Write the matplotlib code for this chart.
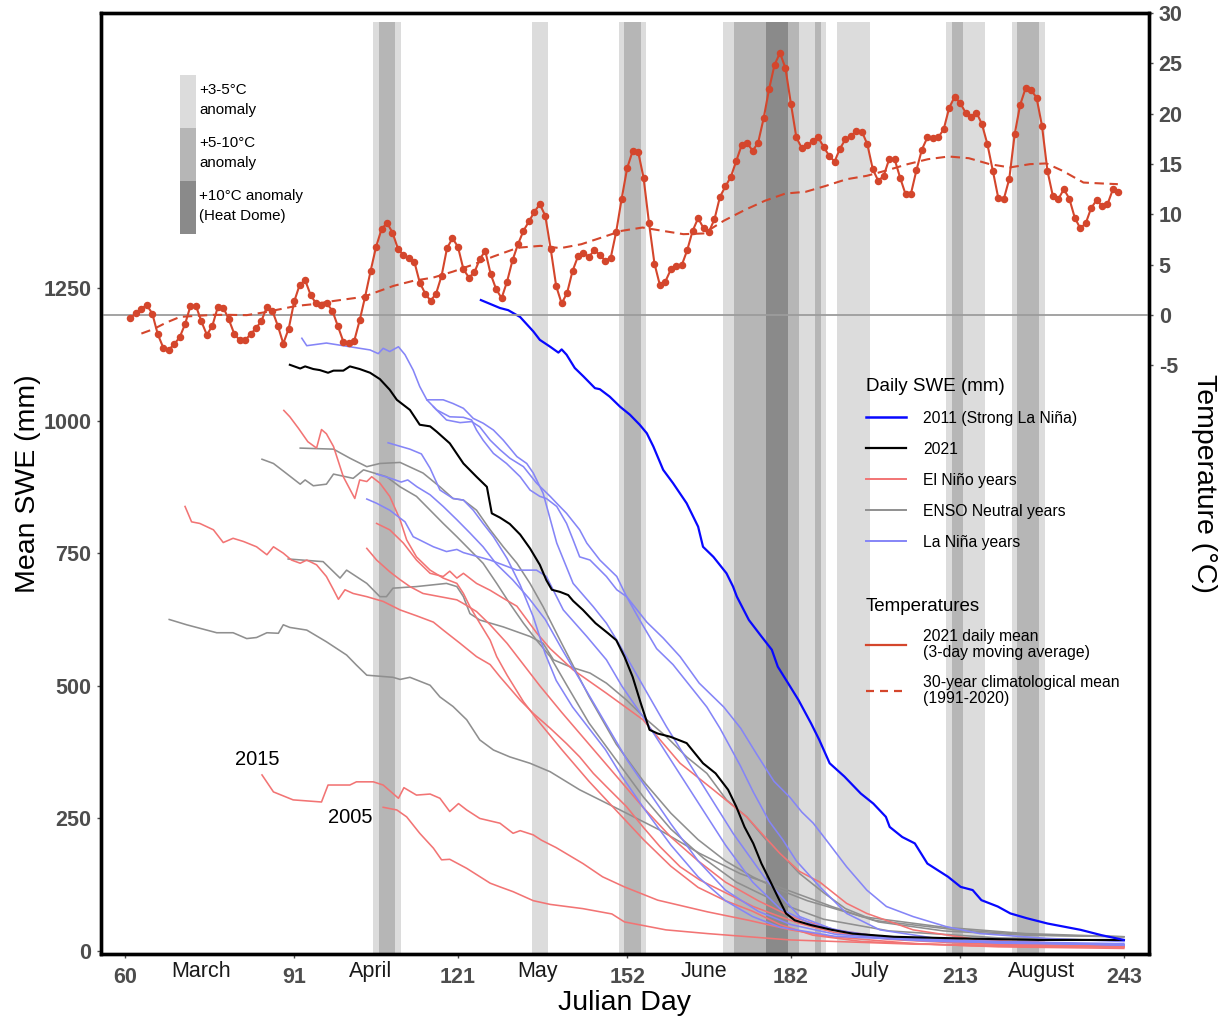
import matplotlib
matplotlib.use('Agg')
import matplotlib.pyplot as plt
from matplotlib.lines import Line2D
from matplotlib.patches import Patch

plt.rcParams['font.family'] = ['Liberation Sans', 'DejaVu Sans']

# ---------------- data ----------------
temp_days = list(range(61, 243))
temp_2021 = [
    -0.33, 0.17, 0.63, 0.96, 0.13, -1.92, -3.25, -3.48, -2.92, -2.25,
    -0.93, 0.89, 0.89, -0.66, -1.99, -1.09, 0.76, 0.73, -0.43, -1.86,
    -2.52, -2.52, -1.92, -1.33, -0.60, 0.80, 0.40, -1.09, -2.85, -1.36,
    1.33, 2.98, 3.45, 1.99, 1.13, 0.99, 1.13, 0.40, -1.13, -2.65,
    -2.75, -2.58, -0.53, 1.82, 4.37, 6.76, 8.51, 9.15, 8.18, 6.59,
    5.93, 5.63, 5.30, 3.21, 2.12, 1.39, 2.12, 3.88, 6.63, 7.62,
    6.76, 4.54, 3.71, 4.21, 5.53, 6.36, 4.04, 2.55, 1.66, 3.31,
    5.43, 7.02, 8.35, 9.28, 10.24, 11.0, 9.84, 6.53, 2.85, 1.13,
    2.19, 4.37, 5.83, 6.16, 5.77, 6.43, 5.96, 5.37, 5.70, 8.28,
    11.56, 14.58, 16.27, 16.23, 13.65, 9.15, 5.10, 2.95, 3.31, 4.51,
    4.90, 4.93, 6.43, 8.35, 9.61, 8.61, 8.28, 9.51, 11.73, 12.76,
    13.72, 15.31, 16.90, 17.06, 16.30, 17.13, 19.52, 22.43, 24.85, 26.04,
    24.52, 21.0, 17.63, 16.57, 16.86, 17.26, 17.63, 16.70, 15.81, 15.24,
    16.53, 17.46, 17.79, 18.29, 18.22, 16.96, 14.48, 13.32, 13.82, 15.47,
    15.47, 13.65, 12.0, 12.06, 14.38, 16.43, 17.63, 17.53, 17.63, 18.46,
    20.58, 21.67, 21.07, 20.11, 19.62, 20.11, 18.95, 16.96, 14.31, 11.6,
    11.5, 13.49, 17.96, 20.87, 22.53, 22.33, 21.6, 18.79, 14.31, 11.8,
    11.5, 12.49, 11.56, 9.67, 8.61, 9.08, 10.6, 11.4, 10.83, 10.99,
    12.49, 12.26]

clim_days = [63, 65.2, 67.6, 70.1, 73.1, 76.2, 79.2, 82.3, 85.3, 88.4, 91.4, 94.5,
             97.6, 100.6, 103.7, 106.7, 109.2, 112.8, 116.5, 120.1, 123.8, 127.5,
             131.1, 132.4, 136.1, 139.8, 143.6, 147.3, 151.0, 154.8, 158.5, 162.3,
             166.0, 169.7, 173.5, 177.2, 181.0, 184.7, 188.4, 192.2, 195.9, 199.7,
             203.4, 207.1, 210.9, 214.6, 218.4, 222.1, 225.8, 228.8, 231.8, 235.6,
             239.3, 241.9]
clim_mean = [-1.86, -1.42, -0.76, -0.2, -0.1, 0.0, 0.0, -0.03, 0.23, 0.56, 0.89, 1.06,
             1.33, 1.56, 1.79, 2.39, 2.88, 3.38, 3.71, 4.3, 5.0, 5.8,
             6.5, 6.69, 6.86, 6.63, 7.02, 7.68, 8.35, 8.68, 8.35, 8.02,
             8.09, 9.35, 10.41, 11.33, 12.06, 12.23, 12.82, 13.48, 13.82, 14.38,
             14.98, 15.47, 15.74, 15.57, 14.98, 14.65, 14.98, 15.05, 14.31, 13.15,
             13.05, 12.99]

# anomaly bands (Julian day ranges)
band_light = [(105.5, 110.5), (134.5, 137.5), (150.5, 155.5), (169.5, 188.5),
              (190.5, 196.5), (210.5, 217.5), (222.5, 228.5)]
band_medium = [(106.5, 109.5), (151.5, 154.5), (171.5, 183.5), (186.5, 187.5),
               (211.5, 213.5), (223.5, 227.5)]
band_dark = [(177.5, 181.5)]

# 2011 strong La Nina
y2011_days = [125.2, 128.7, 130.2, 132.4, 134.8, 136.0, 137.9, 139.4, 140.0, 140.9, 142.4,
              144.0, 146.1, 147.0, 148.8, 150.7, 152.5, 154.3, 155.6, 156.8, 158.6, 160.4,
              162.9, 165.0, 165.9, 167.8, 170.2, 171.4, 172.1, 174.3, 176.6, 178.5, 179.6,
              181.9, 183.4, 185.7, 187.2, 189.1, 191.8, 194.8, 197.1, 199.4, 200.1, 202.4,
              204.7, 207.0, 210.8, 213.1, 215.3, 216.9, 219.9, 222.2, 225.2, 229.0, 235.1,
              238.9, 243.0]
y2011_swe = [1227, 1212, 1208, 1195, 1168, 1152, 1139, 1128, 1134, 1124, 1099,
             1083, 1061, 1059, 1045, 1026, 1011, 992, 976, 951, 907, 882,
             844, 800, 762, 743, 712, 687, 668, 624, 593, 568, 536,
             498, 473, 429, 398, 354, 329, 297, 278, 253, 234, 215,
             203, 165, 140, 121, 115, 96, 84, 71, 62, 52, 40,
             30, 21]

# 2021
y2021_days = [90.2, 92.1, 93.0, 94.5, 95.7, 97.2, 98.2, 100.0, 101.2, 103.0, 104.9, 106.7,
              108.5, 109.8, 112.2, 114.0, 115.9, 117.1, 119.5, 122.0, 124.4, 126.3, 127.2,
              128.7, 130.5, 132.4, 134.2, 136.0, 137.2, 138.2, 139.7, 141.2, 142.1, 143.9,
              146.2, 148.5, 150.0, 151.5, 153.0, 154.5, 156.1, 157.6, 159.9, 162.9, 164.4,
              165.9, 168.2, 170.5, 172.0, 173.5, 175.1, 176.6, 178.1, 179.6, 181.1, 182.7,
              185.7, 189.5, 193.3, 200.9, 212.3, 227.5, 243.0]
y2021_swe = [1105, 1098, 1102, 1097, 1095, 1090, 1094, 1094, 1102, 1097, 1090, 1078,
             1058, 1039, 1020, 992, 989, 979, 957, 919, 894, 875, 825,
             817, 805, 785, 759, 728, 699, 681, 677, 671, 660, 643,
             618, 599, 586, 555, 517, 467, 417, 410, 404, 392, 373,
             354, 335, 304, 272, 234, 203, 165, 134, 102, 71, 58,
             49, 40, 33, 27, 24, 21, 21]

# La Nina years
nina1_days = [92.4, 93.3, 96.9, 101.2, 104.9, 106.4, 107.3, 108.5, 110.1, 111.3, 112.8, 114.0,
              115.3, 117.1, 119.5, 122.0, 123.5, 124.4, 125.6, 127.5, 129.9, 132.4, 134.2,
              136.0, 137.2, 139.1, 140.9, 142.1, 143.3, 145.2, 148.2, 150.1, 151.9, 155.6,
              158.6, 161.7, 165.2, 169.7, 172.8, 175.8, 178.9, 181.8, 184.0, 186.1, 188.5,
              192.2, 195.9, 199.5, 204.4, 210.5, 216.6, 228.8, 243.0]
nina1_swe = [1155, 1141, 1146, 1139, 1133, 1126, 1136, 1130, 1139, 1124, 1095, 1064,
             1039, 1020, 1007, 1006, 1001, 982, 963, 938, 919, 894, 869,
             857, 853, 838, 806, 775, 743, 737, 706, 681, 668, 620,
             590, 555, 505, 460, 420, 370, 320, 290, 262, 241, 209,
             159, 115, 84, 65, 46, 33, 24, 18]
nina2_days = [115.3, 118.3, 120.1, 122.0, 123.8, 125.6, 127.5, 129.3, 131.8, 133.6, 134.8,
              136.6, 139.1, 142.1, 145.8, 148.2, 150.1, 154.3, 159.2, 165.3, 171.4, 177.5,
              183.6, 190.0, 200.0, 220.0, 243.0]
nina2_swe = [1039, 1039, 1032, 1023, 1004, 995, 982, 963, 932, 919, 901,
             863, 769, 693, 649, 618, 586, 511, 423, 322, 222, 134,
             65, 40, 25, 15, 12]
nina3_days = [116.5, 118.9, 121.4, 123.5, 125.0, 126.9, 128.7, 130.5, 133.0, 135.4, 137.9,
              139.1, 140.9, 143.3, 144.6, 147.0, 150.1, 151.9, 154.3, 157.4, 160.4, 163.5,
              166.6, 169.0, 172.7, 175.1, 178.0, 180.5, 183.0, 187.3, 192.2, 198.3, 210.5,
              243.0]
nina3_swe = [1026, 1001, 996, 998, 988, 963, 945, 929, 913, 882, 857,
             844, 825, 794, 769, 737, 706, 668, 624, 570, 540, 500,
             460, 420, 350, 300, 245, 210, 170, 121, 71, 40, 21,
             11]
nina4_days = [108.2, 112.2, 114.3, 115.9, 117.7, 120.1, 122.0, 123.8, 125.6, 127.5, 130.0,
              132.4, 134.8, 137.0, 139.0, 142.0, 145.0, 148.0, 151.0, 155.0, 160.0, 165.0,
              170.0, 175.0, 180.0, 190.0, 210.0, 243.0]
nina4_swe = [958, 946, 937, 910, 869, 853, 850, 831, 806, 781, 740,
             690, 630, 560, 510, 460, 420, 380, 330, 270, 200, 140,
             95, 65, 45, 28, 18, 12]
nina5_days = [104.3, 106.1, 108.5, 111.3, 112.8, 116.5, 118.9, 120.8, 122.0, 126.9, 131.8,
              135.4, 137.2, 140.3, 144.6, 148.2, 151.0, 155.0, 160.0, 165.0, 170.0, 175.0,
              180.0, 186.0, 195.0, 215.0, 243.0]
nina5_swe = [852, 844, 831, 809, 781, 762, 753, 757, 751, 737, 718,
             718, 706, 643, 593, 549, 500, 440, 360, 280, 200, 130,
             80, 50, 30, 18, 12]
nina6_days = [106.1, 108.4, 110.6, 111.8, 113.5, 115.9, 118.3, 120.8, 123.2, 125.6, 128.0,
              131.0, 134.0, 137.0, 140.0, 144.0, 148.0, 152.0, 156.0, 160.0, 165.0, 170.0,
              176.0, 182.0, 190.0, 205.0, 243.0]
nina6_swe = [899, 892, 884, 888, 875, 860, 838, 813, 788, 762, 730,
             700, 665, 625, 570, 500, 430, 360, 300, 240, 170, 115,
             75, 50, 32, 20, 14]

# El Nino years
nino1_days = [89.1, 90.2, 91.8, 93.5, 95.1, 96.0, 96.9, 98.2, 100.0, 102.1, 103.0, 104.3,
              105.2, 106.7, 108.5, 110.4, 111.6, 113.4, 115.9, 118.3, 120.8, 122.0, 123.2,
              125.0, 126.9, 128.1, 130.0, 133.0, 136.0, 140.0, 145.0, 150.0, 155.0, 160.0,
              165.0, 170.0, 175.0, 180.0, 186.0, 195.0, 215.0, 243.0]
nino1_swe = [1019, 1007, 985, 960, 948, 983, 975, 951, 894, 853, 888, 885,
             894, 882, 857, 813, 775, 743, 718, 703, 693, 674, 649,
             618, 586, 555, 520, 470, 430, 380, 320, 265, 210, 160,
             120, 95, 75, 50, 30, 18, 10, 7]
nino2_days = [71.0, 72.2, 73.7, 76.2, 78.0, 79.8, 81.7, 84.1, 86.0, 87.2, 89.0, 90.5, 92.1,
              93.3, 95.1, 96.9, 98.2, 99.1, 100.3, 101.8, 104.3, 107.3, 110.4, 113.4, 116.5,
              118.3, 121.4, 124.4, 126.9, 128.7, 132.4, 134.8, 137.9, 140.9, 143.3, 145.8,
              148.2, 151.9, 154.9, 158.0, 161.7, 165.3, 170.2, 175.1, 180.0, 183.6, 190.0,
              200.0, 215.0, 243.0]
nino2_swe = [838, 809, 806, 794, 770, 778, 772, 762, 747, 762, 750, 737, 731,
             737, 728, 706, 681, 663, 681, 674, 668, 659, 643, 632, 620,
             605, 580, 555, 540, 517, 473, 448, 420, 391, 366, 335,
             310, 272, 234, 197, 159, 134, 109, 84, 65, 52, 35,
             22, 14, 9]
nino3_days = [104.3, 106.1, 108.5, 110.4, 112.2, 114.6, 117.7, 120.8, 122.0, 124.4, 126.9,
              130.0, 133.0, 136.0, 140.0, 145.0, 150.0, 155.0, 160.0, 165.0, 170.0, 176.0,
              182.0, 190.0, 200.0, 220.0, 243.0]
nino3_swe = [759, 737, 715, 700, 687, 674, 668, 662, 655, 640, 615,
             580, 540, 500, 450, 390, 330, 270, 215, 170, 130, 95,
             65, 40, 25, 13, 8]
nino4_days = [106.1, 108.5, 111.0, 113.4, 115.9, 118.3, 119.5, 120.8, 122.0, 124.4, 126.9,
              129.3, 131.8, 135.4, 137.9, 142.1, 148.2, 154.9, 161.7, 167.8, 173.9, 180.0,
              183.6, 187.3, 192.2, 195.9, 204.4, 216.6, 243.0]
nino4_swe = [806, 794, 769, 737, 712, 706, 716, 703, 712, 693, 680,
             665, 650, 600, 570, 530, 486, 436, 354, 304, 253, 184,
             150, 130, 90, 71, 40, 21, 10]
nino2015_days = [85.1, 87.2, 90.8, 96.0, 97.2, 101.2, 102.4, 105.5, 107.3, 110.1, 111.1, 113.4,
                 115.9, 117.7, 119.5, 121.1, 122.6, 125.0, 128.7, 131.1, 132.4, 134.8, 136.3,
                 139.0, 143.9, 147.5, 151.5, 157.6, 166.7, 174.3, 181.9, 189.5, 204.7, 220.0,
                 243.0]
nino2015_swe = [332, 300, 285, 281, 313, 313, 319, 319, 313, 288, 308, 294,
                296, 288, 263, 278, 266, 250, 241, 222, 227, 219, 209,
                195, 165, 140, 121, 96, 74, 58, 40, 27, 14, 8,
                5]
nino2005_days = [107.3, 109.8, 111.6, 114.0, 116.5, 118.0, 119.5, 122.6, 126.9, 128.7, 131.1,
                 134.8, 137.9, 143.9, 149.2, 151.5, 159.1, 166.7, 181.9, 204.7, 243.0]
nino2005_swe = [271, 266, 253, 222, 194, 172, 173, 156, 128, 121, 112,
                95, 88, 80, 70, 55, 40, 33, 21, 13, 8]

# ENSO neutral years
neut1_days = [68.1, 71.3, 76.8, 79.8, 82.3, 84.1, 86.0, 88.1, 89.0, 90.2, 93.3, 96.9, 100.6,
              102.4, 104.3, 109.1, 110.4, 112.2, 115.9, 117.7, 120.1, 122.6, 125.0, 127.5,
              130.5, 134.2, 137.9, 143.3, 150.7, 158.0, 165.3, 172.7, 180.0, 189.5, 197.1,
              212.3, 227.5, 243.0]
neut1_swe = [625, 615, 600, 600, 589, 591, 600, 599, 615, 610, 605, 583, 558,
             539, 520, 516, 512, 516, 501, 479, 461, 436, 398, 379,
             366, 354, 338, 304, 266, 228, 184, 146, 120, 84, 58,
             40, 30, 27]
neut2_days = [85.1, 87.2, 89.6, 92.1, 93.0, 94.5, 96.9, 98.2, 101.8, 103.7, 107.9, 110.4,
              113.4, 115.9, 118.3, 120.8, 123.2, 125.6, 128.1, 130.5, 133.0, 135.4, 137.9,
              141.0, 145.0, 150.0, 155.0, 160.0, 166.0, 172.0, 180.0, 188.0, 200.0, 220.0,
              243.0]
neut2_swe = [927, 919, 900, 880, 888, 877, 880, 899, 891, 907, 894, 875,
             857, 831, 806, 781, 756, 731, 693, 655, 618, 586, 555,
             500, 430, 360, 290, 230, 175, 130, 90, 60, 38, 25,
             20]
neut3_days = [92.1, 98.2, 101.2, 104.3, 106.7, 110.4, 114.6, 117.7, 120.1, 122.0, 124.4,
              126.9, 129.3, 131.8, 134.2, 136.6, 140.0, 145.0, 150.0, 155.0, 160.0, 165.0,
              170.0, 175.0, 180.0, 185.0, 195.0, 210.0, 225.0, 243.0]
neut3_swe = [948, 946, 929, 913, 919, 921, 901, 875, 853, 850, 831,
             794, 762, 731, 693, 649, 580, 480, 390, 320, 260, 210,
             170, 140, 115, 95, 65, 45, 33, 27]
neut4_days = [89.9, 96.3, 99.4, 100.6, 104.3, 106.7, 107.9, 109.1, 113.4, 118.9, 120.8,
              122.0, 123.2, 125.0, 129.3, 134.2, 136.6, 138.5, 141.5, 145.2, 148.2, 151.9,
              155.6, 159.2, 162.9, 166.6, 170.2, 173.9, 177.5, 181.2, 183.6, 188.0, 192.0,
              198.0, 210.0, 225.0, 243.0]
neut4_swe = [739, 734, 703, 718, 693, 668, 668, 684, 687, 693, 687,
             668, 636, 624, 611, 593, 580, 549, 536, 524, 505, 473,
             436, 404, 366, 335, 285, 253, 209, 172, 146, 110, 80,
             55, 38, 30, 27]

nina_lines = [(nina1_days, nina1_swe), (nina2_days, nina2_swe), (nina3_days, nina3_swe),
              (nina4_days, nina4_swe), (nina5_days, nina5_swe), (nina6_days, nina6_swe)]
nino_lines = [(nino1_days, nino1_swe), (nino2_days, nino2_swe), (nino3_days, nino3_swe),
              (nino4_days, nino4_swe), (nino2015_days, nino2015_swe),
              (nino2005_days, nino2005_swe)]
neutral_lines = [(neut1_days, neut1_swe), (neut2_days, neut2_swe), (neut3_days, neut3_swe),
                 (neut4_days, neut4_swe)]

x_ticks = [60, 91, 121, 152, 182, 213, 243]
month_pos = [74, 105, 135.5, 166, 196.5, 228]
month_names = ['March', 'April', 'May', 'June', 'July', 'August']
swe_ticks = [0, 250, 500, 750, 1000, 1250]
temp_ticks = [-5, 0, 5, 10, 15, 20, 25, 30]

# ---------------- style ----------------
c_light, c_medium, c_dark = '#dcdcdc', '#b6b6b6', '#8a8a8a'
c_nino, c_nina, c_neutral = '#f27474', '#8585f7', '#8f8f8f'
c_2011, c_2021 = '#0808ff', '#000000'
c_temp = '#d4462c'
tick_color = '#4d4d4d'

fig = plt.figure(figsize=(12.27, 10.17), dpi=100)
ax = fig.add_axes([0.0823, 0.0622, 0.8541, 0.925])
ax2 = ax.twinx()

ax.set_xlim(55.6, 247.6)
ax.set_ylim(-5, 1768)
ax2.set_ylim(-63.5, 29.9)

band_top = 0.99
for x0, x1 in band_light:
    ax.axvspan(x0, x1, ymin=0, ymax=band_top, color=c_light, lw=0, zorder=0.5)
for x0, x1 in band_medium:
    ax.axvspan(x0, x1, ymin=0, ymax=band_top, color=c_medium, lw=0, zorder=0.6)
for x0, x1 in band_dark:
    ax.axvspan(x0, x1, ymin=0, ymax=band_top, color=c_dark, lw=0, zorder=0.7)

thin = 1.15
for d, v in neutral_lines:
    ax.plot(d, v, color=c_neutral, lw=thin, zorder=2)
for d, v in nino_lines:
    ax.plot(d, v, color=c_nino, lw=thin, zorder=2.1)
for d, v in nina_lines:
    ax.plot(d, v, color=c_nina, lw=thin, zorder=2.2)
ax.plot(y2021_days, y2021_swe, color=c_2021, lw=1.5, zorder=3)
ax.plot(y2011_days, y2011_swe, color=c_2011, lw=1.6, zorder=3)

ax.text(84.2, 362, '2015', fontsize=14.5, ha='center', va='center')
ax.text(101.2, 251, '2005', fontsize=14.5, ha='center', va='center')

ax2.axhline(0, color='#9c9c9c', lw=1.3, zorder=1)
ax2.plot(clim_days, clim_mean, color=c_temp, lw=1.5, dashes=(4.5, 2.7), zorder=2)
ax2.plot(temp_days, temp_2021, color=c_temp, lw=1.5, marker='o', ms=4.4, zorder=3)

# ticks
ax.set_xticks(x_ticks)
ax.set_xticklabels([str(t) for t in x_ticks], fontweight='bold', fontsize=15.5, color=tick_color)
ax.set_xticks(month_pos, minor=True)
ax.set_xticklabels(month_names, minor=True, fontsize=15.5, color='#1a1a1a')
ax.tick_params(axis='x', which='major', length=3, width=1, pad=6.5, color=tick_color)
ax.tick_params(axis='x', which='minor', length=0, pad=5.0)

ax.set_yticks(swe_ticks)
ax.set_yticklabels([str(t) for t in swe_ticks], fontweight='bold', fontsize=15.5, color=tick_color)
ax.tick_params(axis='y', length=3, width=1, pad=4, color=tick_color)
ax2.set_yticks(temp_ticks)
ax2.set_yticklabels([str(t) for t in temp_ticks], fontweight='bold', fontsize=15.5, color=tick_color)
ax2.tick_params(axis='y', length=3, width=1, pad=4, color=tick_color)

for a in (ax, ax2):
    for s in a.spines.values():
        s.set_linewidth(2.4)
        s.set_color('black')

ax.set_xlabel('Julian Day', fontsize=20.5, va='center')
ax.xaxis.set_label_coords(0.5, -0.052)
ax.set_ylabel('Mean SWE (mm)', fontsize=20.5, va='center')
ax.yaxis.set_label_coords(-0.0697, 0.5)
ax2.set_ylabel('Temperature (°C)', fontsize=20.5, rotation=270, va='center')
ax2.yaxis.set_label_coords(1.0525, 0.5)

# legends
anom_handles = [Patch(facecolor=c_light, edgecolor='none'),
                Patch(facecolor=c_medium, edgecolor='none'),
                Patch(facecolor=c_dark, edgecolor='none')]
anom_labels = ['+3-5°C\nanomaly', '+5-10°C\nanomaly', '+10°C anomaly\n(Heat Dome)']
leg0 = ax2.legend(anom_handles, anom_labels, loc='upper left', bbox_to_anchor=(0.0754, 0.934),
                  frameon=False, fontsize=10.9, handlelength=1.06, handleheight=5.02,
                  labelspacing=0, handletextpad=0.2, borderpad=0, borderaxespad=0)
for t in leg0.get_texts():
    t.set_linespacing(1.6)
ax2.add_artist(leg0)

swe_handles = [Line2D([], [], color=c_2011, lw=1.8), Line2D([], [], color=c_2021, lw=1.6),
               Line2D([], [], color=c_nino, lw=1.4), Line2D([], [], color=c_neutral, lw=1.4),
               Line2D([], [], color=c_nina, lw=1.4)]
swe_labels = ['2011 (Strong La Niña)', '2021', 'El Niño years', 'ENSO Neutral years', 'La Niña years']
leg1 = ax2.legend(swe_handles, swe_labels, title='Daily SWE (mm)', loc='upper left',
                  bbox_to_anchor=(0.730, 0.6125), frameon=False, fontsize=11.3,
                  title_fontsize=13.5, handlelength=2.56, handletextpad=1.09,
                  labelspacing=1.02, borderpad=0, borderaxespad=0, alignment='left')
ax2.add_artist(leg1)

temp_handles = [Line2D([], [], color=c_temp, lw=1.6),
                Line2D([], [], color=c_temp, lw=1.6, dashes=(3.6, 2.7))]
temp_labels = ['2021 daily mean\n(3-day moving average)', '30-year climatological mean\n(1991-2020)']
leg2 = ax2.legend(temp_handles, temp_labels, title='Temperatures', loc='upper left',
                  bbox_to_anchor=(0.730, 0.378), frameon=False, fontsize=11.3,
                  title_fontsize=13.5, handlelength=2.56, handletextpad=1.09,
                  labelspacing=0.9, borderpad=0, borderaxespad=0, alignment='left')
for t in leg2.get_texts():
    t.set_linespacing(1.1)

fig.savefig('out.png', dpi=100)
